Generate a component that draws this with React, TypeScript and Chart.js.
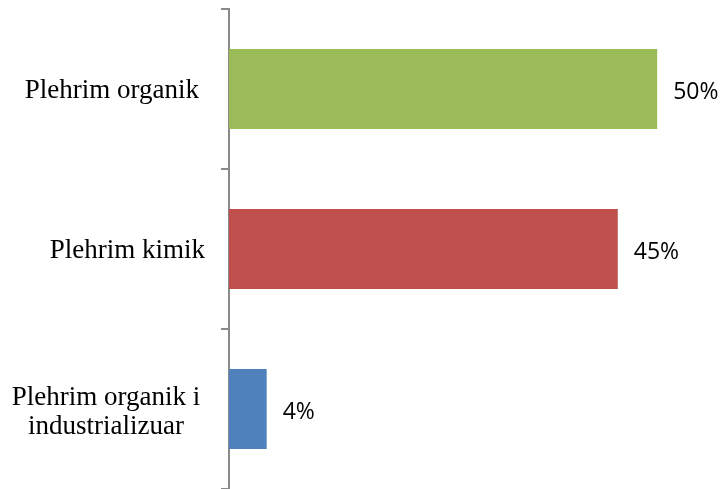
import React, { useEffect, useRef } from "react";
import { Chart, registerables } from "chart.js";

Chart.register(...registerables);

const categories: string[][] = [["Plehrim organik"], ["Plehrim kimik"], ["Plehrim organik i", "industrializuar"]];
const values: number[] = [50, 45.4, 4.4];
const valueLabels: string[] = ["50%", "45%", "4%"];
const colors: string[] = ["#9BBB59", "#C0504D", "#4F81BD"];

const labelPlugin = {
  id: "customLabels",
  afterDatasetsDraw(chart: any) {
    const { ctx } = chart;
    const meta = chart.getDatasetMeta(0);
    const yScale = chart.scales.y;
    ctx.save();
    // value labels
    ctx.font = "23px 'Open Sans', 'Noto Sans', sans-serif";
    ctx.fillStyle = "#000";
    ctx.textAlign = "left";
    ctx.textBaseline = "alphabetic";
    meta.data.forEach((bar: any, i: number) => {
      ctx.fillText(valueLabels[i], bar.x + 16, bar.y + 10);
    });
    // category labels
    ctx.font = "27px 'Liberation Serif', 'Times New Roman', serif";
    categories.forEach((lines, i) => {
      const cy = yScale.getPixelForValue(i);
      const lh = 29;
      if (lines.length === 1) {
        ctx.textAlign = "right";
        ctx.fillText(lines[0], i === 0 ? 199 : 205, cy + 9);
      } else {
        ctx.textAlign = "center";
        lines.forEach((l, j) => {
          ctx.fillText(l, 106, cy + 10 + (j - (lines.length - 1) / 2) * lh);
        });
      }
    });
    ctx.restore();
  },
};

export default function App() {
  const ref = useRef<HTMLCanvasElement>(null);
  useEffect(() => {
    if (!ref.current) return;
    const chart = new Chart(ref.current, {
      type: "bar",
      data: {
        labels: categories.map((c) => c.join(" ")),
        datasets: [
          {
            data: values,
            backgroundColor: colors,
            barPercentage: 0.5,
            categoryPercentage: 1,
          },
        ],
      },
      options: {
        indexAxis: "y",
        animation: false,
        responsive: false,
        maintainAspectRatio: false,
        layout: { padding: { top: 9, bottom: 0, left: 0, right: 25 } },
        plugins: { legend: { display: false }, tooltip: { enabled: false } },
        scales: {
          x: { display: false, min: 0, max: 55 },
          y: {
            afterFit(scale: any) {
              scale.width = 229;
            },
            ticks: { display: false },
            grid: {
              drawOnChartArea: false,
              tickLength: 8,
              color: "#8a8a8a",
              lineWidth: 2,
            },
            border: { color: "#8a8a8a", width: 2 },
          },
        },
      },
      plugins: [labelPlugin],
    });
    return () => chart.destroy();
  }, []);
  return (
    <div style={{ position: "absolute", left: 0, top: 0, width: 725, height: 489, background: "#fff" }}>
      <canvas ref={ref} width={725} height={489} />
    </div>
  );
}
